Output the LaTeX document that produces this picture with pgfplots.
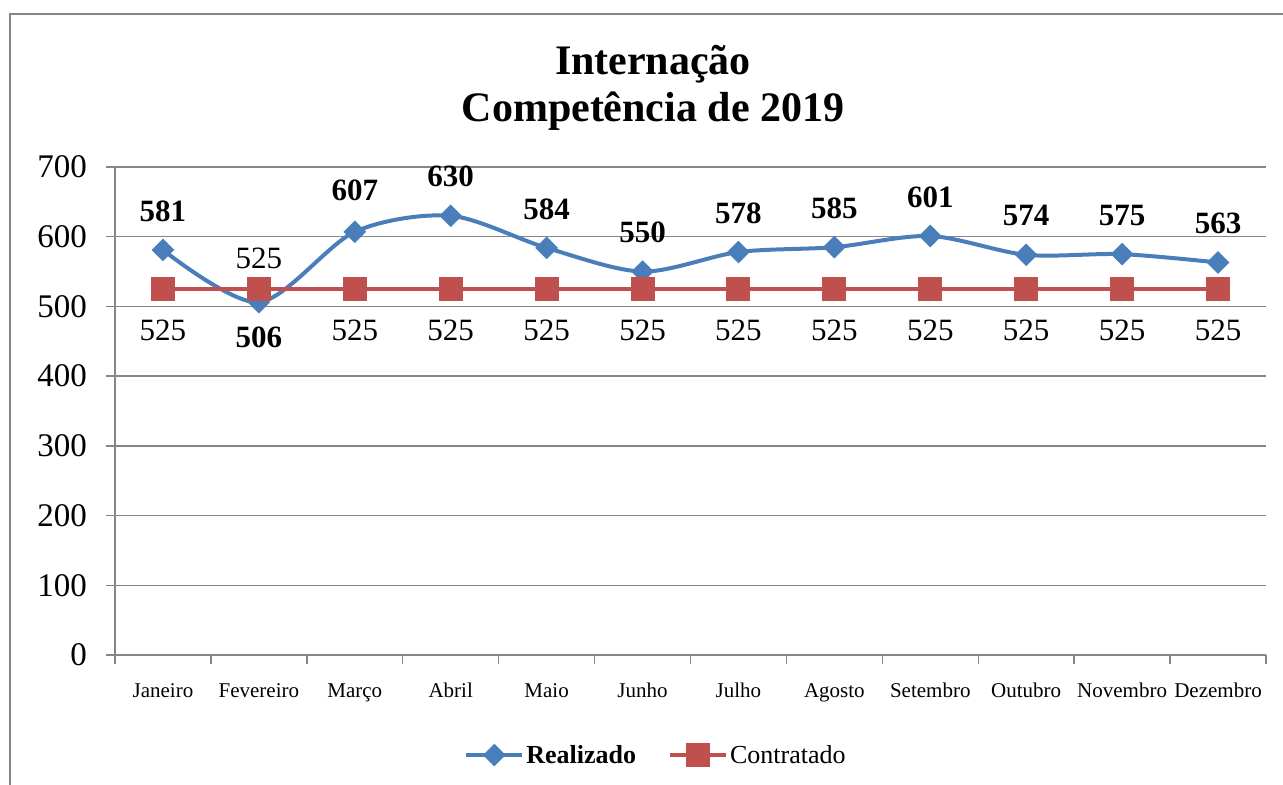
\documentclass[border=0pt]{standalone}
\usepackage{fontspec}
\setmainfont{Liberation Serif}
\usepackage{pgfplots}
\pgfplotsset{compat=1.18}
\definecolor{rblue}{RGB}{74,126,187}
\definecolor{cred}{RGB}{192,80,77}
\definecolor{gridg}{RGB}{134,134,134}
\pgfplotstableread{
x y dy
0 581 39
1 506 -35
2 607 41
3 630 39
4 584 39
5 550 39
6 578 39
7 585 39
8 601 39
9 574 39
10 575 39
11 563 39
}\realizado
\pgfplotstableread{
x y dy
0 525 -41
1 525 31
2 525 -41
3 525 -41
4 525 -41
5 525 -41
6 525 -41
7 525 -41
8 525 -41
9 525 -41
10 525 -41
11 525 -41
}\contratado
\begin{document}
\begin{tikzpicture}
\useasboundingbox (-115bp,-130bp) rectangle (1168bp,655bp);
\draw[gridg, line width=2bp] (-105bp,-130bp) -- (-105bp,641bp) -- (1168bp,641bp);
\begin{axis}[
  at={(0bp,0bp)}, anchor=south west,
  width=1151bp, height=488bp, scale only axis,
  xmin=-0.5, xmax=11.5, ymin=0, ymax=700,
  ytick={0,100,...,700},
  xtick={-0.5,0.5,...,11.5},
  xticklabels={},
  extra x ticks={0,1,...,11},
  extra x tick labels={Janeiro,Fevereiro,Março,Abril,Maio,Junho,Julho,Agosto,Setembro,Outubro,Novembro,Dezembro},
  extra x tick style={major tick length=0pt, grid=none},
  ymajorgrids,
  grid style={gridg, line width=1.5bp},
  axis x line*=bottom, axis y line*=left,
  axis line style={gridg, line width=1.5bp, -},
  tick style={gridg, line width=1.5bp},
  major tick length=9bp, tick align=outside,
  /pgf/number format/assume math mode=true,
  yticklabel style={font=\fontsize{33bp}{36bp}\selectfont, inner sep=0pt, xshift=-19bp},
  xticklabel style={font=\fontsize{21bp}{24bp}\selectfont, anchor=base, inner sep=0pt, yshift=-42bp},
  legend style={at={(axis description cs:0.47,-0.205)}, anchor=center, draw=none,
    font=\fontsize{26bp}{30bp}\selectfont,
    /tikz/every even column/.append style={column sep=30bp}},
  legend columns=2,
  legend image code/.code={\draw[mark repeat=2, mark phase=2, #1] plot coordinates {(0bp,0bp) (28bp,0bp) (56bp,0bp)};},
  clip=false,
]
\addplot[rblue, line width=4bp, smooth, mark=square*, mark size=6bp,
  mark options={rotate=45, fill=rblue, solid},
  nodes near coords, point meta=explicit symbolic,
  visualization depends on={\thisrow{dy} \as \dy},
  nodes near coords style={font=\bfseries\fontsize{31bp}{34bp}\selectfont, text=black, anchor=center, yshift=\dy bp}]
  table[x=x, y=y, meta=y]{\realizado};
\addlegendentry{\textbf{Realizado}}
\addplot[cred, line width=4bp, mark=square*, mark size=10bp,
  mark options={fill=cred, solid},
  nodes near coords, point meta=explicit symbolic,
  visualization depends on={\thisrow{dy} \as \dy},
  nodes near coords style={font=\fontsize{31bp}{34bp}\selectfont, text=black, anchor=center, yshift=\dy bp}]
  table[x=x, y=y, meta=y]{\contratado};
\addlegendentry{Contratado}
\end{axis}
\node[font=\bfseries\fontsize{42bp}{48bp}\selectfont, anchor=base] at (538bp,580bp) {Internação};
\node[font=\bfseries\fontsize{42bp}{48bp}\selectfont, anchor=base] at (538bp,533bp) {Competência de 2019};
\end{tikzpicture}
\end{document}
